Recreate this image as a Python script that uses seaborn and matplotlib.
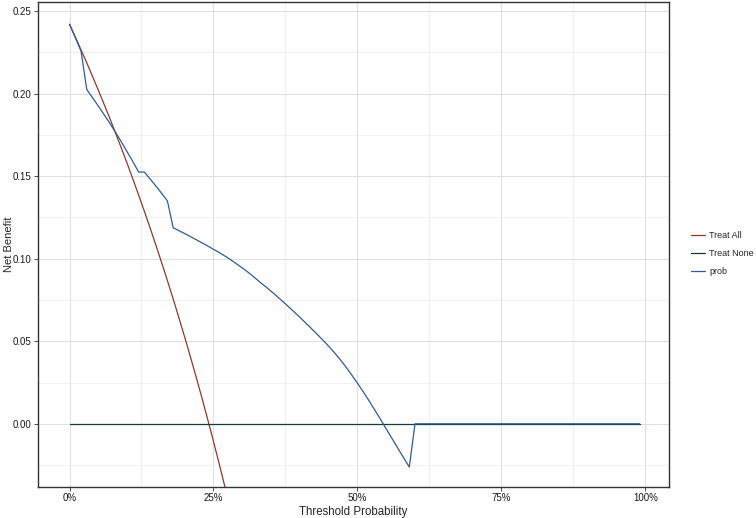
import numpy as np
import pandas as pd
import matplotlib
matplotlib.use("Agg")
import matplotlib.pyplot as plt
import seaborn as sns

# umbrales 0..0.99
thresholds = np.round(np.arange(0, 1.0, 0.01), 2)

# Treat All (se corta por debajo del eje)
treat_all = [0.242, 0.2343, 0.2265, 0.2186, 0.2104, 0.2021, 0.1936, 0.1850,
             0.1761, 0.1670, 0.1578, 0.1483, 0.1386, 0.1287, 0.1186, 0.1082,
             0.0976, 0.0867, 0.0756, 0.0642, 0.0525, 0.0405, 0.0282, 0.0156,
             0.0026, -0.0107, -0.0243, -0.0384, -0.0528]

# Treat None
treat_none = [0.0] * len(thresholds)

# modelo "prob"
prob = [0.242, 0.234, 0.2258, 0.2025, 0.1975, 0.1925, 0.1873, 0.1820, 0.1765, 0.1708,
        0.1648, 0.1588, 0.1525, 0.1525, 0.1483, 0.1440, 0.1396, 0.1350, 0.1188, 0.1170,
        0.1152, 0.1134, 0.1115, 0.1096, 0.1077, 0.1057, 0.1037, 0.1016, 0.0993, 0.0969,
        0.0944, 0.0918, 0.0890, 0.0860, 0.0832, 0.0803, 0.0773, 0.0742, 0.0710, 0.0678,
        0.0645, 0.0611, 0.0577, 0.0542, 0.0507, 0.0470, 0.0431, 0.0389, 0.0344, 0.0296,
        0.0246, 0.0194, 0.0140, 0.0084, 0.0027, -0.0031, -0.0089, -0.0147, -0.0205, -0.0262,
        0.0] + [0.0] * 39

series_names = ["Treat All", "Treat None", "prob"]
colores = {"Treat All": "#8E3A28", "Treat None": "#123D33", "prob": "#2F5A9B"}

x_ticks = [0, 0.25, 0.5, 0.75, 1.0]
x_labels = ["0%", "25%", "50%", "75%", "100%"]
y_ticks = [0.00, 0.05, 0.10, 0.15, 0.20, 0.25]
y_labels = ["0.00", "0.05", "0.10", "0.15", "0.20", "0.25"]

df = pd.concat([
    pd.DataFrame({"thr": thresholds[:len(treat_all)], "nb": treat_all, "model": "Treat All"}),
    pd.DataFrame({"thr": thresholds, "nb": treat_none, "model": "Treat None"}),
    pd.DataFrame({"thr": thresholds, "nb": prob, "model": "prob"}),
], ignore_index=True)

sns.set_theme(style="white")
plt.rcParams["font.family"] = ["Liberation Sans", "DejaVu Sans"]

fig = plt.figure(figsize=(7.56, 5.18), dpi=100)
ax = fig.add_axes([38 / 756, 1 - 487 / 518, (669 - 38) / 756, (487 - 2) / 518])

sns.lineplot(data=df, x="thr", y="nb", hue="model", hue_order=series_names,
             palette=colores, estimator=None, sort=False, linewidth=0.9, ax=ax)

ax.set_xlim(-0.0547, 1.041)
ax.set_ylim(-0.0383, 0.2555)

ax.set_xticks(x_ticks)
ax.set_xticklabels(x_labels)
ax.set_yticks(y_ticks)
ax.set_yticklabels(y_labels)
ax.set_xticks([0.125, 0.375, 0.625, 0.875], minor=True)
ax.set_yticks([-0.025, 0.025, 0.075, 0.125, 0.175, 0.225], minor=True)

ax.grid(True, which="major", color="#DEDEE2", linewidth=0.7)
ax.grid(True, which="minor", color="#ECECEE", linewidth=0.5)
ax.set_axisbelow(True)
ax.tick_params(axis="both", which="major", length=3, width=0.6, color="#333333",
               labelsize=7, labelcolor="#1a1a1a", pad=1.5, bottom=True, left=True)
ax.tick_params(axis="both", which="minor", length=0)

for s in ax.spines.values():
    s.set_color("#333333")
    s.set_linewidth(1.0)

ax.set_xlabel("Threshold Probability", fontsize=8.3, labelpad=2)
ax.set_ylabel("Net Benefit", fontsize=8)
ax.yaxis.set_label_coords(-0.0385, 0.5)

handles, labels = ax.get_legend_handles_labels()
ax.legend_.remove()
fig.legend(handles, labels, loc="upper left", bbox_to_anchor=(691 / 756, 1 - 231 / 518),
           frameon=False, fontsize=6.5, handlelength=1.5, handletextpad=0.5,
           labelspacing=1.0, borderpad=0, borderaxespad=0)

fig.savefig("out.png", dpi=100)
